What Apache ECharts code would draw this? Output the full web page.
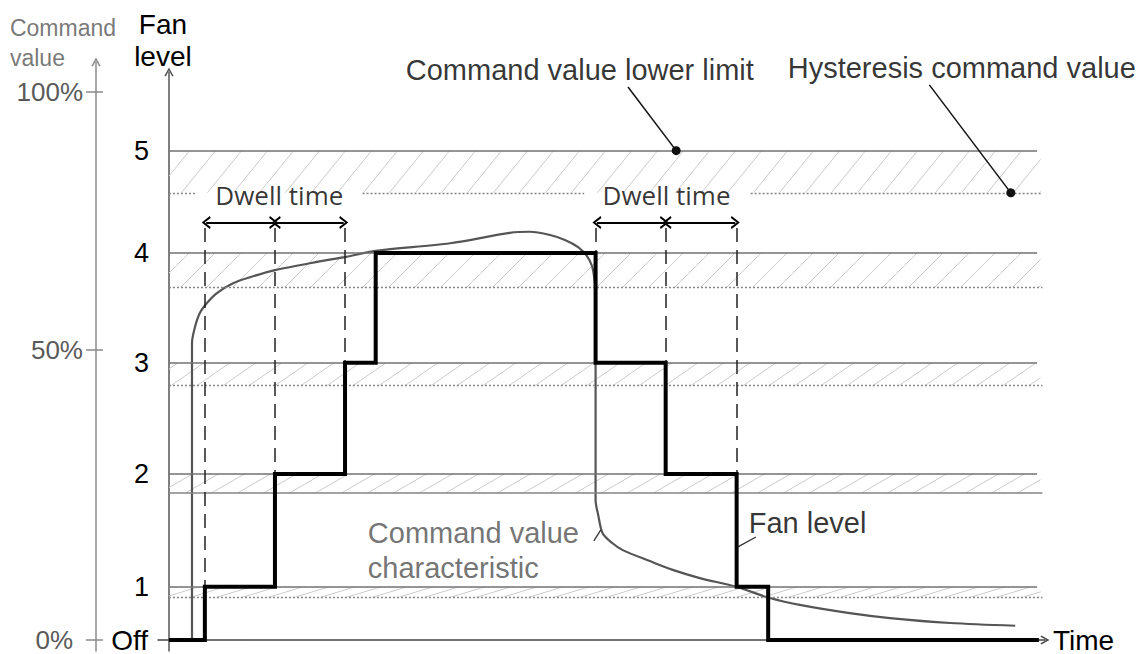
<!DOCTYPE html>
<html>
<head>
<meta charset="utf-8">
<script src="https://cdn.jsdelivr.net/npm/echarts@6.0.0/dist/echarts.min.js"></script>
<style>
  html, body { margin: 0; padding: 0; background: #fff; }
  #chart { width: 1141px; height: 654px; }
</style>
</head>
<body>
<div id="chart"></div>
<script>
// time runs 0..100, vertical scale is the command value in %
var levelLabels = ['Off', '1', '2', '3', '4', '5'];
var levelPos = [0, 9.7, 30.3, 50.6, 70.6, 89.3];   // command value lower limit of each level
var hystPos = [7.8, 26.8, 46.4, 64.4, 81.6];       // hysteresis value under levels 1..5
var cmdTickPos = [0, 53, 100];
var cmdTickLabels = ['0%', '50%', '100%'];

// fan level steps
var fanT = [0, 4.1, 12.1, 20.1, 23.6, 48.7, 56.7, 64.8, 68.4, 99.3];
var fanLevel = [0, 1, 2, 3, 4, 3, 2, 1, 0, 0];

// command value characteristic
var cmdT = [2.63, 2.63, 2.97, 3.54, 4.34, 5.48, 7.31, 9.25, 12.1, 16.9,
            20.2, 23.6, 32.1, 38.9, 41.2, 43.5, 45.2, 46.7, 47.7, 48.3,
            48.6, 48.7, 48.7, 49.0, 49.5, 50.6, 51.8, 54.9, 57.5, 60.6,
            64.8, 68.5, 72.0, 77.7, 82.3, 89.2, 96.6];
var cmdV = [0, 54.2, 57.1, 59.7, 61.5, 63.3, 65.1, 66.2, 67.5, 69.0,
            69.9, 71.0, 72.4, 74.3, 74.5, 73.9, 73.0, 71.7, 70.1, 68.2,
            65.3, 62.0, 25.5, 22.8, 19.5, 17.7, 16.4, 14.4, 12.8, 11.3,
            9.7, 7.7, 6.4, 4.9, 4.0, 3.1, 2.6];

// dwell time marks
var dwellT = [4.1, 12.1, 20.1, 48.7, 56.7, 64.8];
var dwellTop = 75.2;
var dwellArrowV = 76.2;
var dwellSpans = [[4.1, 12.1], [12.1, 20.1], [48.7, 56.7], [56.7, 64.8]];

// gaps in the top hysteresis line where the "Dwell time" labels sit
var hyst5Segments = [[0, 3.2], [22.1, 47.4], [66.4, 99.7]];
var lineEnd = 99.1, hystEnd = 99.7, bandEnd = 99.5;

// leader lines [from, to]
var leaders = [
    [[52.4, 100.9], [57.9, 89.3]],
    [[86.8, 101.3], [96.1, 81.6]]
];
var ticks = [
    [[67.0, 18.8], [64.95, 17.0]],
    [[48.5, 18.1], [49.3, 20.1]]
];

var noteText = ['Command value lower limit', 'Hysteresis command value', 'Dwell time', 'Dwell time',
                'Fan level', 'Command value\ncharacteristic', 'Command\nvalue'];
var noteT = [46.9, 90.5, 12.6, 56.8, 72.9, 22.7, -18.15];
var noteV = [104.0, 104.4, 81.2, 81.2, 21.4, 16.4, 108.9];
var noteKind = ['callout', 'callout', 'dwell', 'dwell', 'callout', 'curve', 'axis'];

var SANS = '"Liberation Sans", Arial, sans-serif';
var chevron = 'path://M0,9 L5,0 L10,9 L8.5,9.9 L5,3.3 L1.5,9.9 Z';

var chart = echarts.init(document.getElementById('chart'), null, { renderer: 'svg' });

var noteStyles = {
    callout: { fontSize: 29, color: '#000', fontFamily: SANS, align: 'center' },
    dwell: { fontSize: 26, color: '#000', fontFamily: '"Open Sans", sans-serif', align: 'center' },
    curve: { fontSize: 29, color: '#505050', fontFamily: SANS, align: 'left', lineHeight: 35 },
    axis: { fontSize: 23, color: '#555', fontFamily: SANS, align: 'left', lineHeight: 30 }
};

var levelLines = [];
for (var i = 1; i < levelPos.length; i++) {
    levelLines.push([{ coord: [0, levelPos[i]] }, { coord: [lineEnd, levelPos[i]] }]);
}
for (var i = 0; i < hystPos.length; i++) {
    var segs = i === hystPos.length - 1 ? hyst5Segments : [[0, hystEnd]];
    segs.forEach(function (s) {
        levelLines.push([
            { coord: [s[0], hystPos[i]], lineStyle: { type: i === 1 ? 'solid' : [2, 2], color: '#858585', width: i === 1 ? 1.6 : 1.3 } },
            { coord: [s[1], hystPos[i]] }
        ]);
    });
}

var levelAt = function (t) {
    var k = fanT.indexOf(t);
    return Math.max(fanLevel[k], fanLevel[k - 1]);
};

var dashLines = dwellT.map(function (t) {
    return [{ coord: [t, dwellTop] }, { coord: [t, levelPos[levelAt(t)]] }];
});
var arrowLines = dwellSpans.map(function (s) {
    return [{ coord: [s[0] + 0.15, dwellArrowV] }, { coord: [s[1] - 0.15, dwellArrowV] }];
});
var leaderLines = leaders.map(function (l) {
    return [{ coord: l[0] }, { coord: l[1] }];
});
var tickLines = ticks.map(function (l) {
    return [{ coord: l[0] }, { coord: l[1] }];
});

var option = {
    animation: false,
    backgroundColor: '#fff',
    grid: [
        { left: 158, right: 96, top: 72, bottom: 3 },
        { left: 96, width: 10, top: 62, bottom: 3 }
    ],
    xAxis: [{
        type: 'value', gridIndex: 0, min: -1.25, max: 100,
        name: 'Time', nameLocation: 'end', nameGap: 8,
        nameTextStyle: { fontSize: 28, color: '#000', fontFamily: SANS, verticalAlign: 'middle' },
        axisLine: { onZero: true, symbol: ['none', chevron], symbolSize: [10, 9], lineStyle: { color: '#444', width: 1.5 } },
        axisTick: { show: false }, axisLabel: { show: false }, splitLine: { show: false }
    }, {
        type: 'value', gridIndex: 1, show: false, min: 0, max: 1
    }],
    yAxis: [{
        type: 'value', gridIndex: 0, min: -2, max: 103.65,
        name: 'Fan\nlevel', nameLocation: 'end', nameGap: 0,
        nameTextStyle: { fontSize: 28, color: '#000', fontFamily: SANS, lineHeight: 32, padding: [0, 12, 0, 0] },
        axisLine: { onZero: true, symbol: ['none', chevron], symbolSize: [10, 9], lineStyle: { color: '#555', width: 1.5 } },
        axisTick: { show: false },
        axisLabel: {
            customValues: levelPos, margin: 9, fontSize: 27, color: '#000', fontFamily: SANS,
            formatter: function (v) {
                var k = levelPos.indexOf(v);
                return k === 0 ? '{off|Off}' : levelLabels[k];
            },
            rich: { off: { fontSize: 28, color: '#000', fontFamily: SANS, padding: [0, 1, 0, 0] } }
        },
        splitLine: { show: false }
    }, {
        type: 'value', gridIndex: 1, min: -2, max: 105.5, position: 'left',
        axisLine: { symbol: ['none', chevron], symbolSize: [10, 9], lineStyle: { color: '#8a8a8a', width: 1.5 } },
        axisTick: { customValues: cmdTickPos, length: 10, lineStyle: { color: '#8a8a8a', width: 1.5 } },
        axisLabel: {
            customValues: cmdTickPos, margin: 13, fontSize: 26, color: '#5a5a5a', fontFamily: SANS,
            formatter: function (v) {
                var k = cmdTickPos.indexOf(v);
                return k === 0 ? '{zero|' + cmdTickLabels[k] + '}' : cmdTickLabels[k];
            },
            rich: { zero: { fontSize: 26, color: '#5a5a5a', fontFamily: SANS, padding: [0, 10, 0, 0] } }
        },
        splitLine: { show: false }
    }, {
        type: 'value', gridIndex: 1, min: -2, max: 105.5, position: 'left',
        axisLine: { show: false },
        axisTick: { customValues: cmdTickPos, inside: true, length: 7, lineStyle: { color: '#8a8a8a', width: 1.5 } },
        axisLabel: { show: false },
        splitLine: { show: false }
    }],
    series: [{
        id: 'guides', type: 'line', data: [], z: 1, silent: true,
        markLine: {
            silent: true, symbol: 'none', label: { show: false },
            lineStyle: { color: '#727272', width: 1.7, type: 'solid' },
            data: levelLines
        }
    }, {
        id: 'dwell', type: 'line', data: [], z: 2, silent: true,
        markLine: {
            silent: true, symbol: 'none', label: { show: false },
            lineStyle: { color: '#222', width: 1.5, type: [14, 8] },
            data: dashLines
        }
    }, {
        id: 'arrows', type: 'line', data: [], z: 3, silent: true,
        markLine: {
            silent: true, symbol: [chevron, chevron], symbolSize: [13, 9], label: { show: false },
            lineStyle: { color: '#000', width: 2.2, type: 'solid' },
            data: arrowLines
        }
    }, {
        id: 'leaders', type: 'line', data: [], z: 3, silent: true,
        markLine: {
            silent: true, symbol: ['none', 'circle'], symbolSize: 9, label: { show: false },
            lineStyle: { color: '#111', width: 1.5, type: 'solid' },
            data: leaderLines
        }
    }, {
        id: 'ticks', type: 'line', data: [], z: 3, silent: true,
        markLine: {
            silent: true, symbol: 'none', label: { show: false },
            lineStyle: { color: '#333', width: 1.3, type: 'solid' },
            data: tickLines
        }
    }, {
        name: 'Command value characteristic', type: 'line', z: 4,
        showSymbol: false, smooth: 0.3,
        lineStyle: { color: '#555', width: 2.2 },
        data: cmdT.map(function (t, i) { return [t, cmdV[i]]; })
    }, {
        name: 'Fan level', type: 'line', z: 5, step: 'end',
        showSymbol: false,
        lineStyle: { color: '#000', width: 4, join: 'miter' },
        data: fanT.map(function (t, i) { return [t, levelPos[fanLevel[i]]]; })
    }, {
        type: 'scatter', z: 6, clip: false, silent: true, symbolSize: 0,
        data: noteText.map(function (txt, i) {
            var st = noteStyles[noteKind[i]];
            return {
                name: txt, value: [noteT[i], noteV[i]],
                label: Object.assign({ show: true, position: [0, 0], verticalAlign: 'middle', formatter: '{b}' }, st)
            };
        })
    }]
};

chart.setOption(option);

// hatched bands between each level and its hysteresis value
var hatch = function (bandPx) {
    var w = 26, th = Math.max(3, Math.round(w * bandPx / 34));
    var c = document.createElement('canvas');
    c.width = w; c.height = th;
    var ctx = c.getContext('2d');
    ctx.strokeStyle = '#cbcbcb';
    ctx.lineWidth = 1;
    for (var k = -1; k <= 1; k++) {
        ctx.beginPath();
        ctx.moveTo(0, th * (1 + k));
        ctx.lineTo(w, th * k);
        ctx.stroke();
    }
    return { image: c, repeat: 'repeat' };
};
var py = function (v) { return chart.convertToPixel({ gridIndex: 0 }, [0, v])[1]; };
var areas = hystPos.map(function (h, i) {
    var top = levelPos[i + 1];
    return [
        { coord: [0, h], itemStyle: { color: hatch(py(h) - py(top)), borderWidth: 0 } },
        { coord: [bandEnd, top] }
    ];
});
chart.setOption({
    series: [{ id: 'guides', markArea: { silent: true, label: { show: false }, data: areas } }]
});
</script>
</body>
</html>
